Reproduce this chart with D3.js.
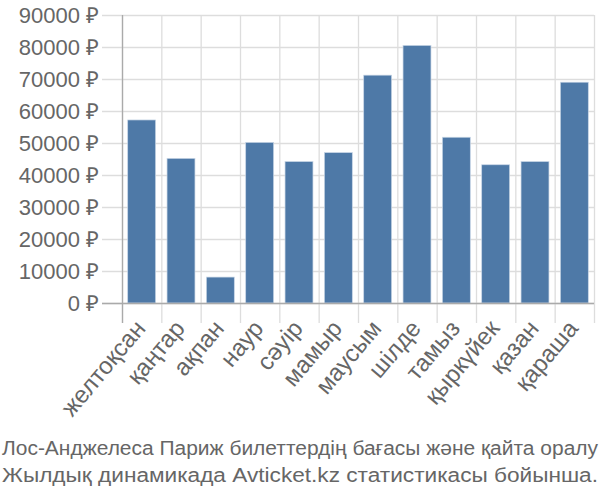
<!DOCTYPE html>
<html><head><meta charset="utf-8">
<script src="https://cdn.jsdelivr.net/npm/d3@7"></script>
<style>body{margin:0;background:#fff}svg{display:block}</style>
</head><body>
<svg id="c" width="600" height="500"></svg>
<script>
const categories = ["желтоқсан","қаңтар","ақпан","наур","сәуір","мамыр","маусым","шілде","тамыз","қыркүйек","қазан","қараша"];
const prices = [57200,45200,8100,50200,44200,47000,71200,80500,51800,43200,44200,69000];
const yTicks = [0,10000,20000,30000,40000,50000,60000,70000,80000,90000];
const titleLines = ["Лос-Анджелеса Париж билеттердің бағасы және қайта оралу","Жылдық динамикада Avticket.kz статистикасы бойынша."];

const svg = d3.select("#c");
const font = "'Liberation Sans', Arial, sans-serif";
const L = 122, R = 594, T = 15, B = 303;
const x = d3.scaleBand().domain(categories).range([L, R]).paddingInner(0.29).paddingOuter(0.145);
const xg = d3.scaleBand().domain(categories).range([L, R]);
const y = d3.scaleLinear().domain([0, 90000]).range([B, T]);

// horizontal grid + ticks
svg.append("g").selectAll("line").data(yTicks).join("line")
  .attr("x1", L - 20).attr("x2", R).attr("y1", d => y(d) + 0.5).attr("y2", d => y(d) + 0.5)
  .attr("stroke", "#ddd").attr("stroke-width", 1.3);
// vertical grid
const vx = categories.map(c => xg(c)).concat([R]);
svg.append("g").selectAll("line").data(vx).join("line")
  .attr("x1", d => d + 0.5).attr("x2", d => d + 0.5).attr("y1", T).attr("y2", B + 20)
  .attr("stroke", "#ddd").attr("stroke-width", 1.3);

// bars
svg.append("g").selectAll("rect").data(prices).join("rect")
  .attr("x", (d, i) => x(categories[i])).attr("width", x.bandwidth())
  .attr("y", d => y(d)).attr("height", d => B - y(d))
  .attr("fill", "#4e79a7").attr("stroke", "#c8d6e6").attr("stroke-width", 0.7);

// axes lines
svg.append("line").attr("x1", L + 0.5).attr("x2", L + 0.5).attr("y1", T).attr("y2", B + 20).attr("stroke", "#aaa").attr("stroke-width", 1.3);
svg.append("line").attr("x1", L - 20).attr("x2", R).attr("y1", B + 0.5).attr("y2", B + 0.5).attr("stroke", "#aaa").attr("stroke-width", 1.3);

// y labels
svg.append("g").selectAll("text").data(yTicks).join("text")
  .attr("x", 99).attr("y", d => y(d)).attr("dy", "0.36em")
  .attr("text-anchor", "end").attr("font-family", font).attr("font-size", 22).attr("fill", "#666")
  .text(d => d + " ₽");

// x labels
svg.append("g").selectAll("text").data(categories).join("text")
  .attr("transform", d => `translate(${xg(d) + xg.bandwidth() / 2 + 5},${B + 26}) rotate(-50)`)
  .attr("text-anchor", "end").attr("font-family", font).attr("font-size", 24).attr("fill", "#666")
  .text(d => d);

// title
svg.append("g").selectAll("text").data(titleLines).join("text")
  .attr("x", 2).attr("y", (d, i) => 455 + i * 27)
  .attr("font-family", font).attr("font-size", 20).attr("fill", "#666")
  .attr("textLength", 596).attr("lengthAdjust", "spacingAndGlyphs")
  .text(d => d);
</script>
</body></html>
